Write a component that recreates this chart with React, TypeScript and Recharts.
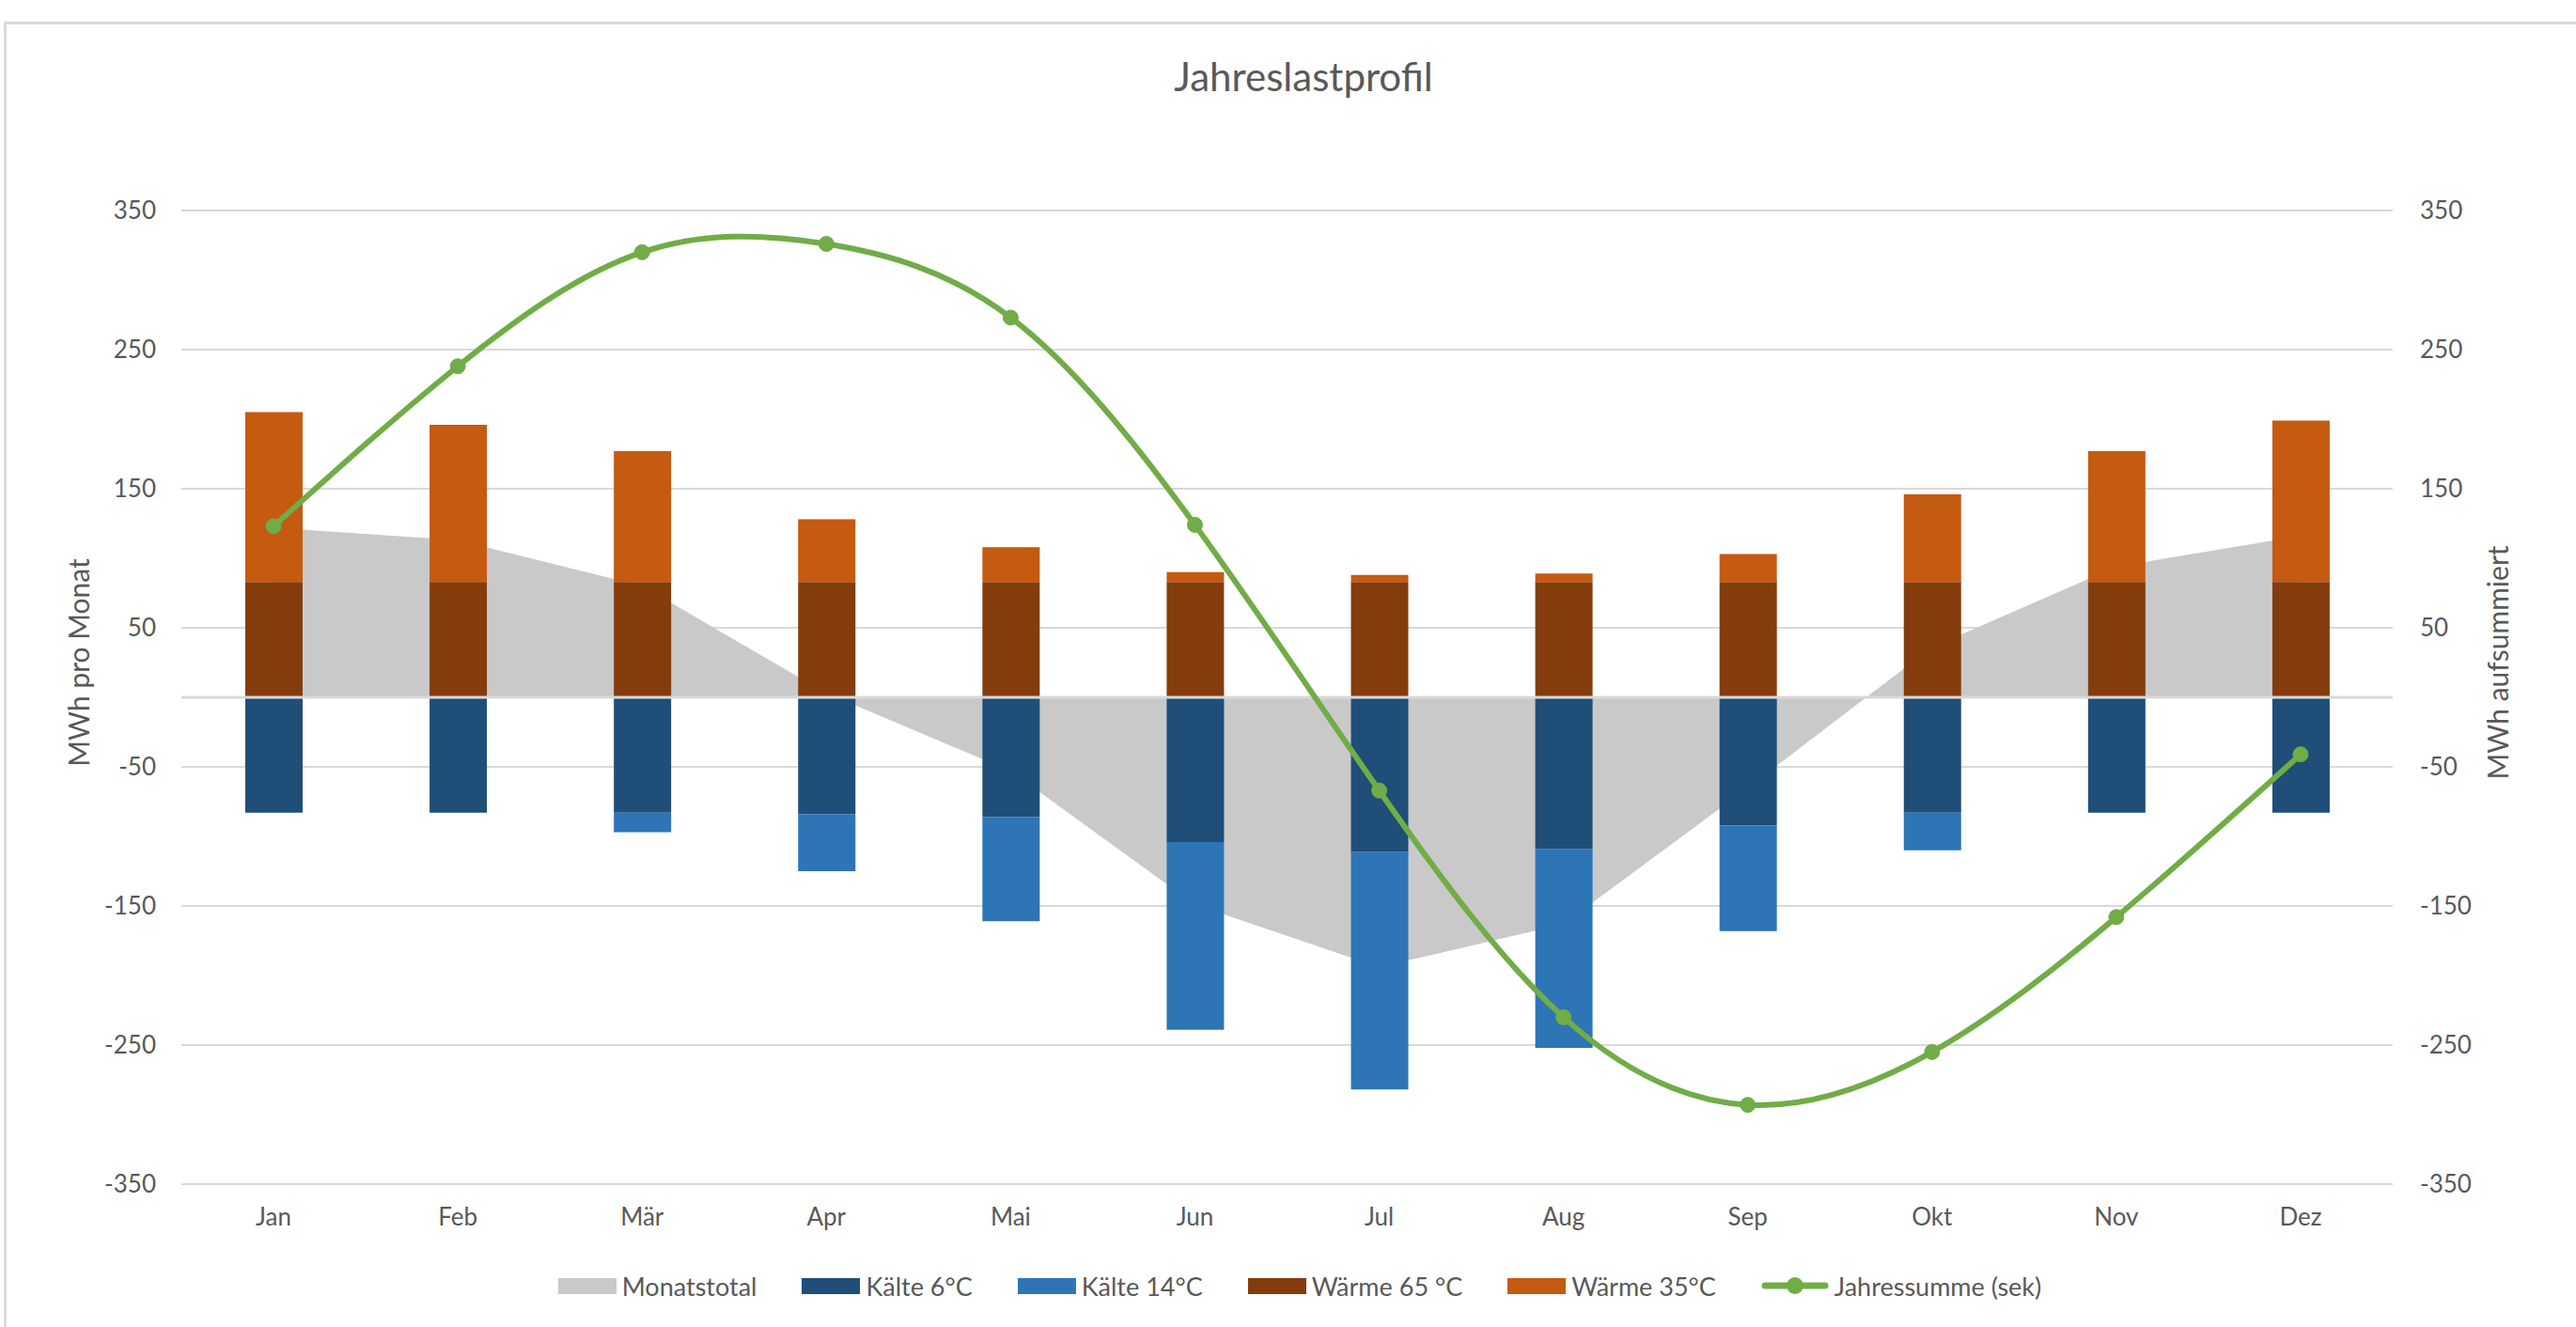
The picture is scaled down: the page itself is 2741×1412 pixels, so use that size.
import {
  Area,
  Bar,
  CartesianGrid,
  ComposedChart,
  Legend,
  Line,
  ReferenceLine,
  XAxis,
  YAxis,
} from "recharts";

const monate = ["Jan", "Feb", "Mär", "Apr", "Mai", "Jun", "Jul", "Aug", "Sep", "Okt", "Nov", "Dez"];
const monatstotal = [122, 113, 80, 3, -53, -149, -194, -163, -65, 36, 94, 116];
const kaelte6 = [-83, -83, -83, -84, -86, -104, -111, -109, -92, -83, -83, -83];
const kaelte14 = [0, 0, -14, -41, -75, -135, -171, -143, -76, -27, 0, 0];
const waerme65 = [83, 83, 83, 83, 83, 83, 83, 83, 83, 83, 83, 83];
const waerme35 = [122, 113, 94, 45, 25, 7, 5, 6, 20, 63, 94, 116];
const jahressumme = [123, 238, 320, 326, 273, 124, -67, -230, -293, -255, -158, -41];
const yTicks = [-350, -250, -150, -50, 50, 150, 250, 350];

// Reihenfolge wie in der Vorlage
const legendReihenfolge = ["monatstotal", "kaelte6", "kaelte14", "waerme65", "waerme35", "jahressumme"];

const farben: Record<string, string> = {
  monatstotal: "#c9c9c9",
  kaelte6: "#1f4e79",
  kaelte14: "#2e75b6",
  waerme65: "#843c0c",
  waerme35: "#c55a11",
  jahressumme: "#70ad47",
};

const data = monate.map((name, i) => ({
  name,
  monatstotal: monatstotal[i],
  kaelte6: kaelte6[i],
  kaelte14: kaelte14[i],
  waerme65: waerme65[i],
  waerme35: waerme35[i],
  jahressumme: jahressumme[i],
}));

const grau = "#595959";
const schrift = "Lato, 'Open Sans', sans-serif";

const LegendInhalt = ({ payload }: any) => {
  const items = [...(payload || [])].sort(
    (a: any, b: any) => legendReihenfolge.indexOf(a.dataKey) - legendReihenfolge.indexOf(b.dataKey)
  );
  return (
    <div
      style={{
        display: "flex",
        justifyContent: "center",
        alignItems: "center",
        height: 30,
        fontSize: 27,
        color: grau,
        fontFamily: schrift,
      }}
    >
      {items.map((p: any, i: number) => (
        <div
          key={p.dataKey}
          style={{ display: "flex", alignItems: "center", marginRight: i < items.length - 1 ? 48 : 0 }}
        >
          {p.dataKey === "jahressumme" ? (
            <svg width={72} height={22}>
              <line x1={4} y1={11} x2={68} y2={11} stroke={farben[p.dataKey]} strokeWidth={7} strokeLinecap="round" />
              <circle cx={36} cy={11} r={9} fill={farben[p.dataKey]} />
            </svg>
          ) : (
            <div style={{ width: 62, height: 17, background: farben[p.dataKey] }} />
          )}
          <span style={{ marginLeft: 6, whiteSpace: "nowrap" }}>{p.value}</span>
        </div>
      ))}
    </div>
  );
};

const tickStil = { fill: grau, fontSize: 26, fontFamily: schrift };

export default function App() {
  return (
    <div
      style={{
        position: "absolute",
        left: 0,
        top: 0,
        width: 2741,
        height: 1412,
        background: "#fff",
        overflow: "hidden",
        fontFamily: schrift,
      }}
    >
      <div
        style={{
          position: "absolute",
          left: 4,
          top: 23,
          width: 2800,
          height: 1500,
          border: "3px solid #d9d9d9",
          boxSizing: "border-box",
        }}
      />
      <div
        style={{
          position: "absolute",
          left: 887,
          width: 1000,
          top: 56,
          textAlign: "center",
          fontSize: 42,
          color: grau,
        }}
      >
        Jahreslastprofil
      </div>
      <div
        style={{
          position: "absolute",
          left: 83,
          top: 705,
          transform: "translate(-50%, -50%) rotate(-90deg)",
          whiteSpace: "nowrap",
          fontSize: 30,
          color: grau,
        }}
      >
        MWh pro Monat
      </div>
      <div
        style={{
          position: "absolute",
          left: 2657,
          top: 705,
          transform: "translate(-50%, -50%) rotate(-90deg)",
          whiteSpace: "nowrap",
          fontSize: 30,
          color: grau,
        }}
      >
        MWh aufsummiert
      </div>
      <ComposedChart
        width={2741}
        height={1412}
        data={data}
        stackOffset="sign"
        margin={{ top: 224, right: 75, bottom: 29, left: 100 }}
        style={{ position: "absolute", left: 0, top: 0 }}
      >
        <CartesianGrid vertical={false} stroke="#d9d9d9" strokeWidth={2} yAxisId="left" />
        <XAxis
          dataKey="name"
          axisLine={false}
          tickLine={false}
          tickSize={0}
          tickMargin={26}
          height={93}
          interval={0}
          tick={tickStil}
        />
        <YAxis
          yAxisId="left"
          domain={[-350, 350]}
          ticks={yTicks}
          interval={0}
          axisLine={false}
          tickLine={false}
          tickSize={0}
          tickMargin={27}
          width={93}
          tick={tickStil}
        />
        <YAxis
          yAxisId="right"
          orientation="right"
          domain={[-350, 350]}
          ticks={yTicks}
          interval={0}
          axisLine={false}
          tickLine={false}
          tickSize={0}
          tickMargin={29}
          width={120}
          tick={tickStil}
        />
        <Legend verticalAlign="bottom" content={<LegendInhalt />} />
        <Area
          yAxisId="left"
          type="linear"
          dataKey="monatstotal"
          name="Monatstotal"
          fill={farben.monatstotal}
          fillOpacity={1}
          stroke="none"
          isAnimationActive={false}
        />
        <Bar yAxisId="left" dataKey="kaelte6" name="Kälte 6°C" stackId="a" barSize={61} fill={farben.kaelte6} isAnimationActive={false} />
        <Bar yAxisId="left" dataKey="kaelte14" name="Kälte 14°C" stackId="a" barSize={61} fill={farben.kaelte14} isAnimationActive={false} />
        <Bar yAxisId="left" dataKey="waerme65" name="Wärme 65 °C" stackId="a" barSize={61} fill={farben.waerme65} isAnimationActive={false} />
        <Bar yAxisId="left" dataKey="waerme35" name="Wärme 35°C" stackId="a" barSize={61} fill={farben.waerme35} isAnimationActive={false} />
        <ReferenceLine yAxisId="left" y={0} stroke="#d9d9d9" strokeWidth={3} />
        <Line
          yAxisId="right"
          type="natural"
          dataKey="jahressumme"
          name="Jahressumme (sek)"
          stroke={farben.jahressumme}
          strokeWidth={6}
          dot={{ r: 8, fill: farben.jahressumme, stroke: farben.jahressumme, strokeWidth: 1 }}
          isAnimationActive={false}
        />
      </ComposedChart>
    </div>
  );
}
